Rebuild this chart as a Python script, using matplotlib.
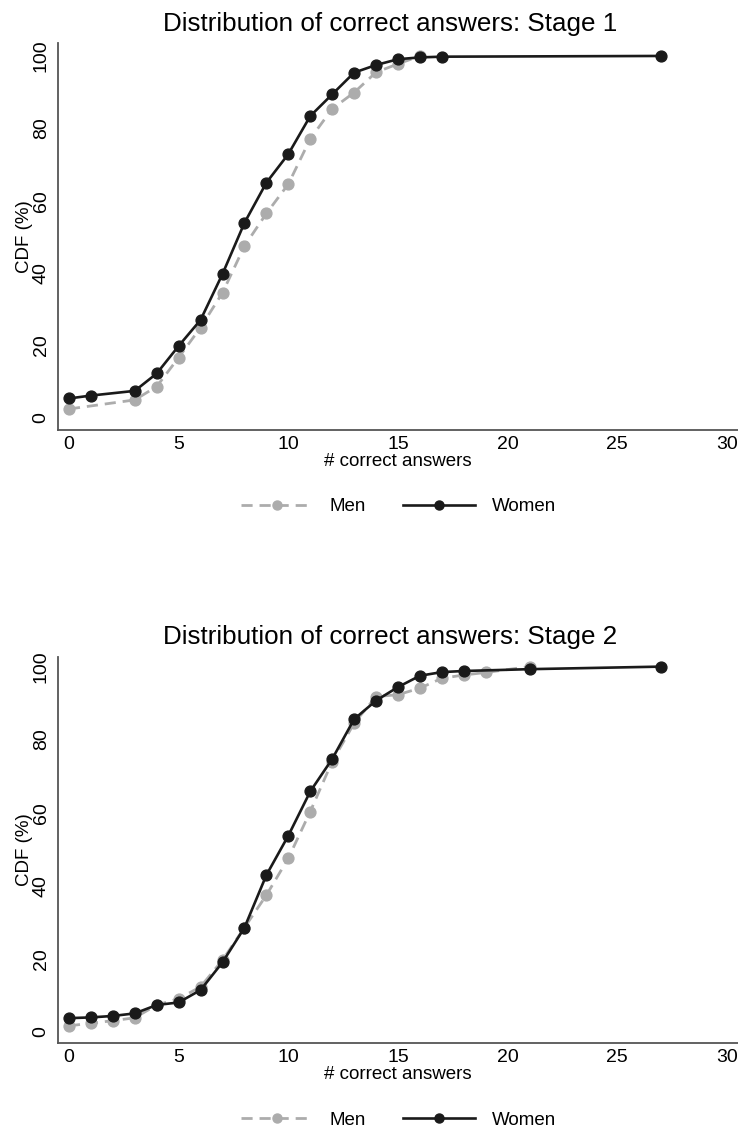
import matplotlib.pyplot as plt
from matplotlib.lines import Line2D

plt.rcParams['font.family'] = ['Liberation Sans', 'DejaVu Sans']

# Stage 1
s1_men_x = [0, 3, 4, 5, 6, 7, 8, 9, 10, 11, 12, 13, 14, 15, 16]
s1_men_y = [2.5, 5.0, 8.7, 16.7, 25.0, 34.6, 47.5, 56.5, 64.6, 77.1, 85.4, 89.9, 95.5, 97.8, 100]
s1_women_x = [0, 1, 3, 4, 5, 6, 7, 8, 9, 10, 11, 12, 13, 14, 15, 16, 17, 27]
s1_women_y = [5.4, 6.2, 7.5, 12.3, 19.9, 27.1, 39.8, 53.9, 65.0, 72.9, 83.4, 89.4, 95.4,
              97.5, 99.1, 99.6, 99.8, 100]

# Stage 2
s2_men_x = [0, 1, 2, 3, 4, 5, 6, 7, 8, 9, 10, 11, 12, 13, 14, 15, 16, 17, 18, 19, 21]
s2_men_y = [1.6, 2.3, 3.0, 3.8, 7.3, 9.0, 12.3, 19.6, 28.5, 37.4, 47.5, 60.3, 74.0, 84.5,
            91.8, 92.3, 94.1, 96.8, 97.7, 98.4, 100]
s2_women_x = [0, 1, 2, 3, 4, 5, 6, 7, 8, 9, 10, 11, 12, 13, 14, 15, 16, 17, 18, 21, 27]
s2_women_y = [3.7, 3.9, 4.3, 5.0, 7.3, 8.0, 11.4, 19.0, 28.5, 42.9, 53.7, 65.8, 74.7, 85.6,
              90.7, 94.4, 97.5, 98.5, 98.8, 99.3, 100]

stages = [
    ("Distribution of correct answers: Stage 1", s1_men_x, s1_men_y, s1_women_x, s1_women_y),
    ("Distribution of correct answers: Stage 2", s2_men_x, s2_men_y, s2_women_x, s2_women_y),
]

men_color = '#acacac'
women_color = '#1a1a1a'

fig = plt.figure(figsize=(7.38, 11.3), dpi=100)
boxes = [[0.0786, 0.6195, 0.9214, 0.3422], [0.0786, 0.0767, 0.9214, 0.3421]]
ylims = [(-3.3, 103.5), (-3.2, 102.7)]

for box, ylim, (title, mx, my, wx, wy) in zip(boxes, ylims, stages):
    ax = fig.add_axes(box)
    ax.plot(mx, my, color=men_color, linestyle=(0, (4, 2.5)), linewidth=2,
            marker='o', markersize=7.8)
    ax.plot(wx, wy, color=women_color, linestyle='-', linewidth=1.9,
            marker='o', markersize=7.8)
    ax.set_xlim(-0.5, 30.5)
    ax.set_ylim(*ylim)
    ax.set_xticks([0, 5, 10, 15, 20, 25, 30])
    ax.set_yticks([0, 20, 40, 60, 80, 100])
    ax.tick_params(length=0, labelsize=14, pad=6)
    ax.tick_params(axis='x', pad=4)
    for lbl in ax.get_yticklabels():
        lbl.set_rotation(90)
        lbl.set_va('center')
    ax.spines['top'].set_visible(False)
    ax.spines['right'].set_visible(False)
    for s in ('left', 'bottom'):
        ax.spines[s].set_color('#555555')
        ax.spines[s].set_linewidth(1.3)
    ax.set_title(title, fontsize=18.7, pad=9, x=0.488)
    ax.set_xlabel('# correct answers', fontsize=13.5, labelpad=0)
    ax.set_ylabel('CDF (%)', fontsize=13.5, labelpad=0)

    handles = [
        Line2D([], [], color=men_color, linestyle=(0, (4, 2.5)), linewidth=2,
               marker='o', markersize=6.5),
        Line2D([], [], color=women_color, linestyle='-', linewidth=1.9,
               marker='o', markersize=6.5),
    ]
    pos = ax.get_position()
    fig.legend(handles, ['Men', 'Women'], loc='center', ncol=2, frameon=False,
               fontsize=13.5, handlelength=3.8, handletextpad=0.9, columnspacing=2.0,
               bbox_to_anchor=(0.54, pos.y0 - 0.068))

fig.savefig('out.png', dpi=100)
